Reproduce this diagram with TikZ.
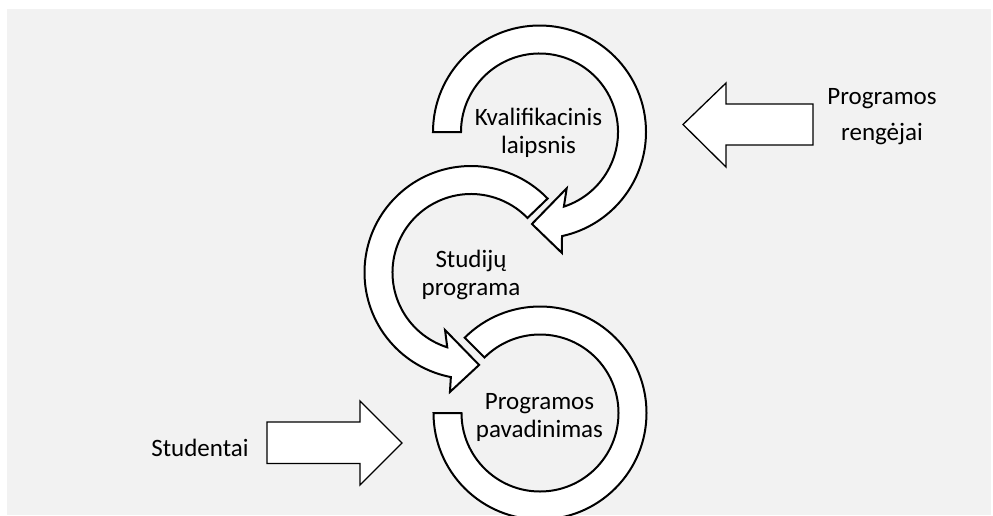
\documentclass[tikz,border=0pt]{standalone}
\usepackage{fontspec}
\setmainfont{Carlito}
\usetikzlibrary{calc}
\tikzset{
  ring/.style={draw=black, line width=2pt, fill=white, line join=miter},
  blockarrow/.style={draw=black, line width=1.3pt, fill=white, line join=miter},
  lbl/.style={font=\fontsize{25}{28}\selectfont, align=center, inner sep=0pt, anchor=base, text=black},
  lblwide/.style={font=\fontsize{25}{36}\selectfont, align=center, inner sep=0pt, anchor=base, text=black}
}
\definecolor{bggray}{HTML}{F2F2F2}
\begin{document}
\begin{tikzpicture}[x=1pt,y=-1pt]
\useasboundingbox (0,0) rectangle (993,515);
\clip (0,0) rectangle (993,515);
\fill[bggray] (7,9) rectangle (991,515);

\coordinate (c1) at (539.5,132);
\coordinate (c2) at (471,272.5);
\coordinate (c3) at (540,413);

% top circular arrow (clockwise)
\draw[ring] ($(c1)+(180:106.5)$) arc[start angle=180, end angle=437.8, radius=106.5]
  -- ($(c1)+(79.5:123)$) -- ($(c1)+(94.7:92.3)$) -- ($(c1)+(64.2:62.5)$)
  -- ($(c1)+(71.9:78.5)$) arc[start angle=431.9, end angle=180, radius=78.5] -- cycle;

% middle circular arrow (counter-clockwise)
\draw[ring] ($(c2)+(316:106.5)$) arc[start angle=316, end angle=100.9, radius=106.5]
  -- ($(c2)+(100:121.3)$) -- ($(c2)+(85:92.8)$) -- ($(c2)+(114.3:63.1)$)
  -- ($(c2)+(107.6:78.5)$) arc[start angle=107.6, end angle=316, radius=78.5] -- cycle;

% bottom block arc
\draw[ring] ($(c3)+(225:106.5)$) arc[start angle=225, end angle=540, radius=106.5]
  -- ($(c3)+(540:78.5)$) arc[start angle=540, end angle=225, radius=78.5] -- cycle;

% block arrows
\draw[blockarrow] (813,104) -- (726,104) -- (726,83) -- (683,124.5) -- (726,167) -- (726,145) -- (813,145) -- cycle;
\draw[blockarrow] (267,422) -- (360,422) -- (360,401) -- (402,443) -- (360,485) -- (360,463.5) -- (267,463.5) -- cycle;

% labels (base anchor = baseline of last line)
\node[lbl] (kval) at (538.5,153) {Kvalifikacinis\\laipsnis};
\node[lbl] (stud) at (471,295) {Studijų\\programa};
\node[lbl] (pav) at (539.5,437) {Programos\\pavadinimas};
\node[lblwide] (reng) at (882,140) {Programos\\rengėjai};
\node[lbl] (studentai) at (200,456) {Studentai};
\end{tikzpicture}
\end{document}
